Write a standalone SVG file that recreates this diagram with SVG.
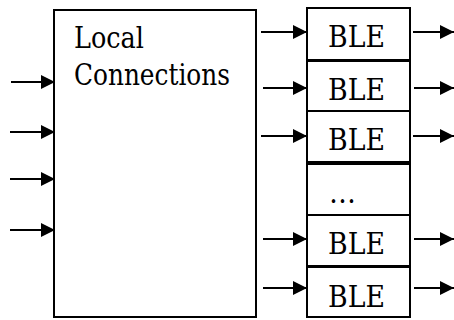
<svg xmlns="http://www.w3.org/2000/svg" width="454" height="320" viewBox="0 0 454 320">
  <style>
    .box { fill: #fff; stroke: #000; stroke-width: 2; }
    text { font-family: 'DejaVu Serif', 'Times New Roman', serif; font-size: 29px; fill: #000; }
    .wire { stroke: #000; stroke-width: 2; fill: none; marker-end: url(#head); }
  </style>
  <defs>
    <marker id="head" markerUnits="userSpaceOnUse" markerWidth="15" markerHeight="14" refX="14" refY="7" orient="auto">
      <polygon points="0,0 14,7 0,14" fill="#000"/>
    </marker>
  </defs>
  <rect width="454" height="320" fill="#fff"/>

  <g id="local-connections">
    <rect class="box" x="54" y="10" width="202" height="307"/>
    <text x="74" y="48" textLength="70" lengthAdjust="spacingAndGlyphs">Local</text>
    <text x="74" y="85" textLength="156" lengthAdjust="spacingAndGlyphs">Connections</text>
  </g>

  <g id="ble1">
    <rect class="box" x="307" y="8" width="103" height="52"/>
    <text x="328" y="47" textLength="57" lengthAdjust="spacingAndGlyphs">BLE</text>
  </g>
  <g id="ble2">
    <rect class="box" x="307" y="61" width="103" height="50"/>
    <text x="328" y="100" textLength="57" lengthAdjust="spacingAndGlyphs">BLE</text>
  </g>
  <g id="ble3">
    <rect class="box" x="307" y="111" width="103" height="51"/>
    <text x="328" y="150" textLength="57" lengthAdjust="spacingAndGlyphs">BLE</text>
  </g>
  <g id="ellipsis">
    <rect class="box" x="307" y="164" width="103" height="51"/>
    <text x="329" y="203" textLength="27" lengthAdjust="spacingAndGlyphs">…</text>
  </g>
  <g id="ble4">
    <rect class="box" x="307" y="215" width="103" height="51"/>
    <text x="328" y="254" textLength="57" lengthAdjust="spacingAndGlyphs">BLE</text>
  </g>
  <g id="ble5">
    <rect class="box" x="307" y="267" width="103" height="50"/>
    <text x="328" y="307" textLength="57" lengthAdjust="spacingAndGlyphs">BLE</text>
  </g>

  <g id="connectors">
    <!-- inputs into the local connections block -->
    <line class="wire" x1="11" y1="82" x2="55" y2="82"/>
    <line class="wire" x1="10" y1="132" x2="55" y2="132"/>
    <line class="wire" x1="10" y1="179" x2="55" y2="179"/>
    <line class="wire" x1="10" y1="230" x2="55" y2="230"/>
    <!-- local connections to BLE inputs -->
    <line class="wire" x1="261" y1="32" x2="307" y2="32"/>
    <line class="wire" x1="263" y1="88" x2="307" y2="88"/>
    <line class="wire" x1="261" y1="136" x2="307" y2="136"/>
    <line class="wire" x1="263" y1="239" x2="307" y2="239"/>
    <line class="wire" x1="263" y1="288" x2="307" y2="288"/>
    <!-- BLE outputs -->
    <line class="wire" x1="413" y1="32" x2="454" y2="32"/>
    <line class="wire" x1="414" y1="88" x2="454" y2="88"/>
    <line class="wire" x1="413" y1="136" x2="454" y2="136"/>
    <line class="wire" x1="414" y1="239" x2="454" y2="239"/>
    <line class="wire" x1="414" y1="288" x2="454" y2="288"/>
  </g>
</svg>
